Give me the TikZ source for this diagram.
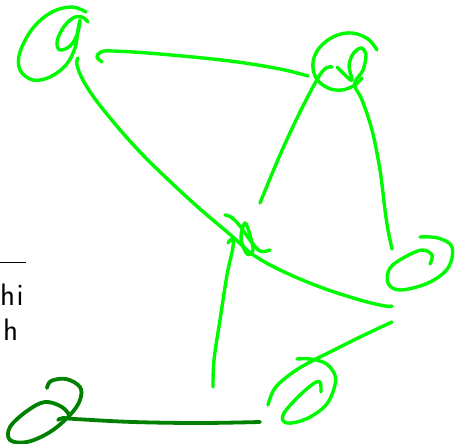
\documentclass[tikz,border=0pt]{standalone}
\begin{document}
\begin{tikzpicture}[x=1pt,y=-1pt,
  gstroke/.style={draw={rgb,255:red,0;green,250;blue,0},line width=3.4pt,line cap=round,line join=round},
  dstroke/.style={draw={rgb,255:red,0;green,128;blue,0},line width=3.8pt,line cap=round,line join=round},
  lbl/.style={font=\sffamily\fontsize{31}{34}\selectfont,inner sep=0pt}]
\useasboundingbox (0,0) rectangle (455,444);
% node centres
\coordinate (tl) at (50,45);
\coordinate (tr) at (345,62);
\coordinate (mid) at (245,240);
\coordinate (rt) at (420,265);
\coordinate (br) at (305,395);
\coordinate (bl) at (45,410);
% text
\draw[line width=0.8pt] (0,262) -- (26,262);
\node[lbl,anchor=base west] (t1) at (0,305) {h\hspace{1.5pt}i};
\node[lbl,anchor=base west] (t2) at (3,340) {h};
% top-left node
\draw[gstroke] plot[smooth,tension=0.6] coordinates {(86,12) (72,7) (52,12) (33,28) (20,52) (20,70) (33,80) (50,77) (66,65) (75,48) (78,30) (80,20)};
\draw[gstroke] plot[smooth,tension=0.6] coordinates {(88,22) (82,17) (73,18) (63,28) (57,42) (60,50) (70,46) (77,35) (80,22)};
% diagonal edge TL -> mid -> right
\draw[gstroke] plot[smooth,tension=0.6] coordinates {(78,58) (77,65) (84,82) (102,108) (140,152) (190,200) (233,237) (252,254) (280,270) (320,287) (360,300) (385,306) (392,306)};
% edge TL -> TR
\draw[gstroke] plot[smooth,tension=0.6] coordinates {(102,62) (97,57) (101,52) (113,51) (160,54) (230,61) (280,69) (308,76)};
% top-right node
\draw[gstroke] plot[smooth,tension=0.6] coordinates {(377,50) (368,39) (352,33) (335,36) (320,47) (313,62) (316,78) (328,88) (342,90) (355,85) (362,78)};
\draw[gstroke] plot[smooth,tension=0.6] coordinates {(332,67) (326,68) (318,78) (300,112) (280,155) (260,203)};
\draw[gstroke] plot[smooth,tension=0.55] coordinates {(337,67) (346,76) (352,80) (349,66) (353,54) (361,48) (366,55) (363,70) (356,80) (355,87) (362,100) (372,130) (380,170) (385,210) (388,230) (392,249)};
% right node
\draw[gstroke] plot[smooth,tension=0.6] coordinates {(420,237) (438,238) (452,247) (448,268) (428,283) (400,290) (388,283) (390,268) (405,257) (422,250) (432,255) (430,264)};
% middle node
\draw[gstroke] plot[smooth,tension=0.6] coordinates {(225,215) (231,217) (240,226) (250,240) (260,251) (270,250)};
\draw[gstroke] plot[smooth cycle,tension=0.6] coordinates {(245,223) (241,238) (247,254) (253,250) (250,235)};
\draw[gstroke] plot[smooth,tension=0.6] coordinates {(228,243) (232,239) (233,247) (227,275) (220,320) (214,360) (213,387)};
% right -> bottom-right
\draw[gstroke] plot[smooth,tension=0.6] coordinates {(392,322) (360,337) (330,352) (310,362) (292,373) (275,388) (268,405)};
\draw[gstroke] plot[smooth,tension=0.6] coordinates {(297,359) (310,359) (325,363) (334,373) (335,385) (326,405) (306,419) (287,423) (283,415) (297,398) (313,384) (320,382) (321,392)};
% bottom-left node and dark edge
\draw[dstroke] plot[smooth,tension=0.6] coordinates {(47,388) (51,381) (66,379) (80,387) (80,400) (70,415) (50,432) (27,442) (10,440) (10,427) (27,411) (45,402) (62,407) (70,416)};
\draw[dstroke] plot[smooth,tension=0.6] coordinates {(58,420) (63,418) (75,419) (133,422) (200,423) (260,422)};
\end{tikzpicture}
\end{document}
